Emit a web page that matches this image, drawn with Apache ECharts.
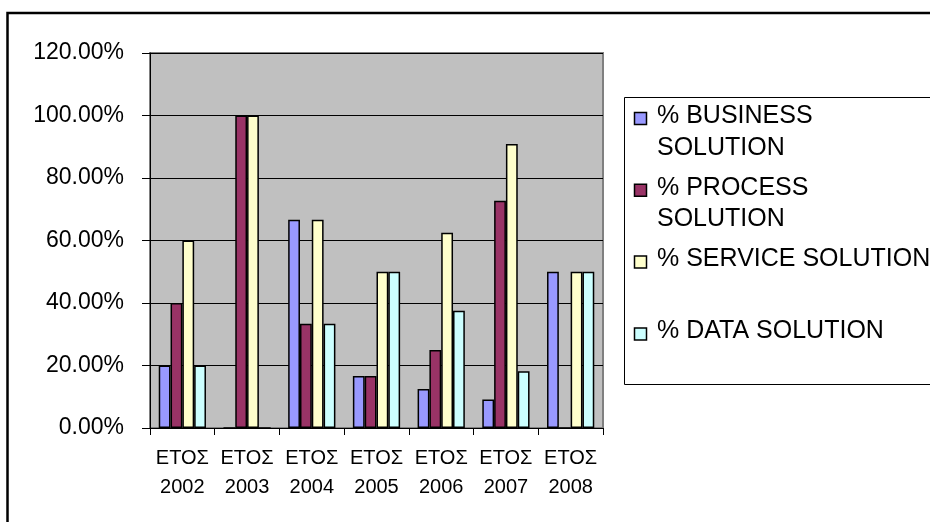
<!DOCTYPE html>
<html>
<head>
<meta charset="utf-8">
<script src="https://cdn.jsdelivr.net/npm/echarts@6/dist/echarts.min.js"></script>
<style>
  html, body { margin: 0; padding: 0; background: #ffffff; }
  #chart { width: 930px; height: 522px; }
</style>
</head>
<body>
<div id="chart"></div>
<script>
// Year categories (two-line axis labels)
const categories = ['ΕΤΟΣ\n2002', 'ΕΤΟΣ\n2003', 'ΕΤΟΣ\n2004', 'ΕΤΟΣ\n2005', 'ΕΤΟΣ\n2006', 'ΕΤΟΣ\n2007', 'ΕΤΟΣ\n2008'];

// Share of each solution type per year, in percent
const businessSolution = [20, 0, 66.67, 16.67, 12.5, 9.09, 50];
const processSolution  = [40, 100, 33.33, 16.67, 25, 72.73, 0];
const serviceSolution  = [60, 100, 66.67, 50, 62.5, 90.91, 50];
const dataSolution     = [20, 0, 33.33, 50, 37.5, 18.18, 50];

const seriesNames = ['% BUSINESS SOLUTION', '% PROCESS SOLUTION', '% SERVICE SOLUTION', '% DATA SOLUTION'];
// Legend text as wrapped lines
const legendLines = [['% BUSINESS', 'SOLUTION'], ['% PROCESS', 'SOLUTION'], ['% SERVICE SOLUTION'], ['% DATA SOLUTION']];
const seriesColors = ['#9999FF', '#993366', '#FFFFCC', '#CCFFFF'];

// Value axis ticks: 0% .. 120% every 20%
const yMin = 0, yMax = 120, yStep = 20;

const FONT = '"Liberation Sans", Arial, sans-serif';
const seriesValues = [businessSolution, processSolution, serviceSolution, dataSolution];

const chart = echarts.init(document.getElementById('chart'), null, { renderer: 'canvas' });

// Legend drawn as graphic elements so each entry keeps its marker on the first text line
const legendGraphics = [];
legendGraphics.push({
  type: 'rect',
  shape: { x: 624.5, y: 97.5, width: 400, height: 287 },
  style: { fill: '#ffffff', stroke: '#000000', lineWidth: 1 },
  z: 10
});
seriesNames.forEach((name, i) => {
  const base = 125 + i * 71.8;
  legendGraphics.push({
    type: 'rect',
    shape: { x: 634.5, y: base - 12.5, width: 12, height: 12 },
    style: { fill: seriesColors[i], stroke: '#000000', lineWidth: 1.5 },
    z: 11
  });
  legendLines[i].forEach((line, j) => {
    legendGraphics.push({
      type: 'text',
      x: 657,
      y: base - 9 + j * 31.7,
      style: {
        text: line,
        font: '25px ' + FONT,
        fill: '#000000',
        verticalAlign: 'middle',
        align: 'left'
      },
      z: 11
    });
  });
});

chart.setOption({
  animation: false,
  backgroundColor: '#ffffff',
  grid: {
    left: 150, right: 327, top: 53, bottom: 94,
    show: true,
    backgroundColor: '#C0C0C0',
    borderColor: '#808080',
    borderWidth: 2
  },
  xAxis: {
    type: 'category',
    data: categories,
    boundaryGap: true,
    axisLine: { show: true, lineStyle: { color: '#000000', width: 1 } },
    axisTick: { show: true, alignWithLabel: false, length: 7, lineStyle: { color: '#000000' } },
    axisLabel: {
      color: '#000000',
      fontFamily: FONT,
      fontSize: 20,
      lineHeight: 29,
      margin: 16,
      interval: 0
    },
    splitLine: { show: false }
  },
  yAxis: {
    type: 'value',
    min: yMin, max: yMax, interval: yStep,
    axisLine: { show: true, lineStyle: { color: '#000000', width: 1 } },
    axisTick: { show: true, length: 8, lineStyle: { color: '#000000' } },
    axisLabel: {
      color: '#000000',
      fontFamily: FONT,
      fontSize: 23,
      margin: 26,
      formatter: v => v.toFixed(2) + '%'
    },
    splitLine: { show: true, lineStyle: { color: '#000000', width: 1 } }
  },
  series: seriesNames.map((name, i) => ({
    name: name,
    type: 'bar',
    data: seriesValues[i],
    barGap: '0%',
    barCategoryGap: '27%',
    itemStyle: {
      color: seriesColors[i],
      borderColor: '#000000',
      borderWidth: 1.5
    }
  })),
  graphic: [
    {
      type: 'rect',
      shape: { x: 7.5, y: 13, width: 1000, height: 600 },
      style: { fill: 'none', stroke: '#000000', lineWidth: 2.5 },
      z: 12
    }
  ].concat(legendGraphics)
});
</script>
</body>
</html>
